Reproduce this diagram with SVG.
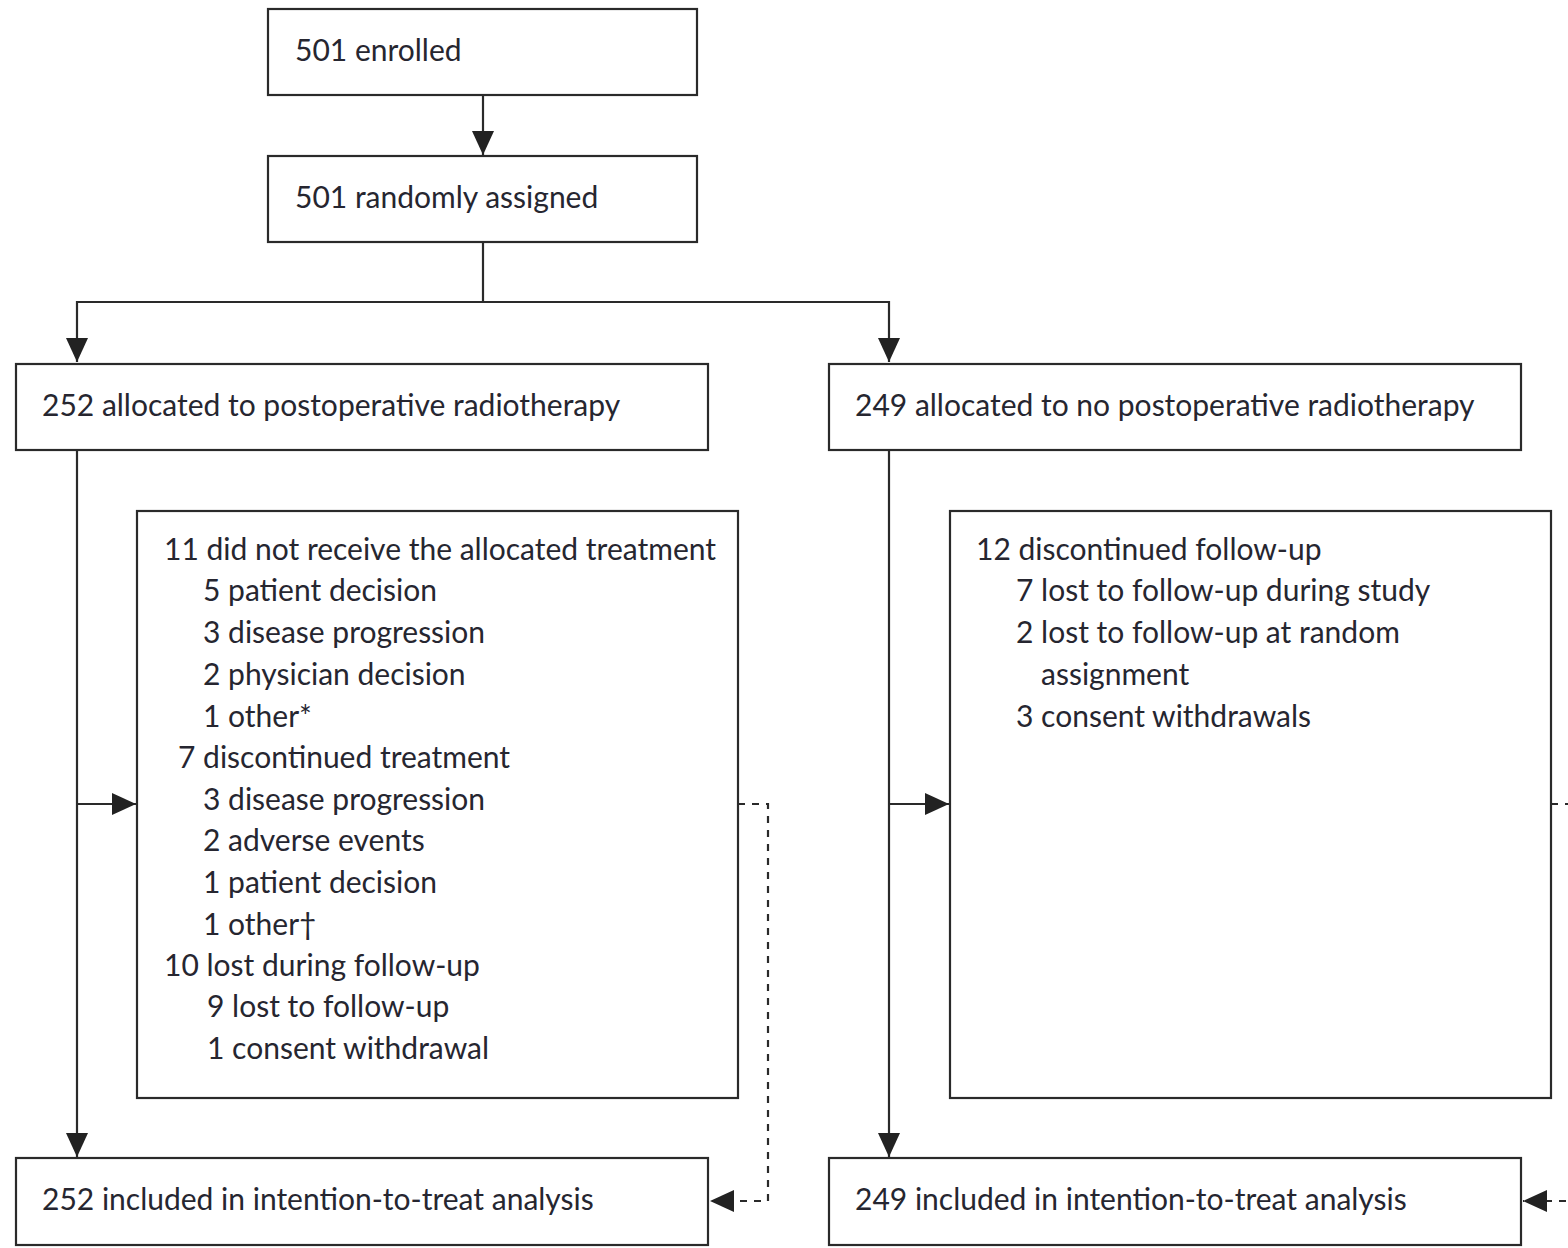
<svg xmlns="http://www.w3.org/2000/svg" width="1568" height="1248" viewBox="0 0 1568 1248">
<style>
.box{fill:#fff;stroke:#2a2a2a;stroke-width:2.2}
.t{font-family:Lato,"Noto Sans",sans-serif;font-size:30px;fill:#262630}
.ln{fill:none;stroke:#2a2a2a;stroke-width:2.2}
.dash{fill:none;stroke:#2a2a2a;stroke-width:2.2;stroke-dasharray:7,7}
</style>
<defs>
<marker id="ah" viewBox="0 0 24 22" refX="24" refY="11" markerWidth="24" markerHeight="22" markerUnits="userSpaceOnUse" orient="auto">
<path d="M0,0 L24,11 L0,22 Z" fill="#222"/>
</marker>
</defs>
<rect width="1568" height="1248" fill="#fff"/>
<g id="connectors">
<line class="ln" x1="483" y1="95" x2="483" y2="155" marker-end="url(#ah)"/>
<polyline class="ln" points="483,242 483,302 77,302 77,362" marker-end="url(#ah)"/>
<polyline class="ln" points="483,302 889,302 889,362" marker-end="url(#ah)"/>
<line class="ln" x1="77" y1="450" x2="77" y2="1157" marker-end="url(#ah)"/>
<line class="ln" x1="77" y1="804" x2="136" y2="804" marker-end="url(#ah)"/>
<line class="ln" x1="889" y1="450" x2="889" y2="1157" marker-end="url(#ah)"/>
<line class="ln" x1="889" y1="804" x2="949" y2="804" marker-end="url(#ah)"/>
<polyline class="dash" points="738,804 768,804 768,1201 710,1201" marker-end="url(#ah)"/>
<line class="dash" x1="1551" y1="804" x2="1580" y2="804"/>
<line class="dash" x1="1580" y1="1201" x2="1523" y2="1201" marker-end="url(#ah)"/>
</g>
<g id="enrolled">
<rect class="box" x="268" y="9" width="429" height="86"/>
<text class="t" x="295" y="61">501 enrolled</text>
</g>
<g id="randomised">
<rect class="box" x="268" y="156" width="429" height="86"/>
<text class="t" x="295" y="208">501 randomly assigned</text>
</g>
<g id="alloc-rt">
<rect class="box" x="16" y="364" width="692" height="86"/>
<text class="t" x="42" y="416">252 allocated to postoperative radiotherapy</text>
</g>
<g id="alloc-nort">
<rect class="box" x="829" y="364" width="692" height="86"/>
<text class="t" x="855" y="416">249 allocated to no postoperative radiotherapy</text>
</g>
<g id="excl-rt">
<rect class="box" x="137" y="511" width="601" height="587"/>
<text class="t" x="164" y="560">11 did not receive the allocated treatment</text>
<text class="t" x="203" y="601">5 patient decision</text>
<text class="t" x="203" y="643">3 disease progression</text>
<text class="t" x="203" y="685">2 physician decision</text>
<text class="t" x="203" y="727">1 other*</text>
<text class="t" x="178" y="768">7 discontinued treatment</text>
<text class="t" x="203" y="810">3 disease progression</text>
<text class="t" x="203" y="851">2 adverse events</text>
<text class="t" x="203" y="893">1 patient decision</text>
<text class="t" x="203" y="935">1 other†</text>
<text class="t" x="164" y="976">10 lost during follow-up</text>
<text class="t" x="207" y="1017">9 lost to follow-up</text>
<text class="t" x="207" y="1059">1 consent withdrawal</text>
</g>
<g id="excl-nort">
<rect class="box" x="950" y="511" width="601" height="587"/>
<text class="t" x="976" y="560">12 discontinued follow-up</text>
<text class="t" x="1016" y="601">7 lost to follow-up during study</text>
<text class="t" x="1016" y="643">2 lost to follow-up at random</text>
<text class="t" x="1041" y="685">assignment</text>
<text class="t" x="1016" y="727">3 consent withdrawals</text>
</g>
<g id="itt-rt">
<rect class="box" x="16" y="1158" width="692" height="87"/>
<text class="t" x="42" y="1210">252 included in intention-to-treat analysis</text>
</g>
<g id="itt-nort">
<rect class="box" x="829" y="1158" width="692" height="87"/>
<text class="t" x="855" y="1210">249 included in intention-to-treat analysis</text>
</g>
</svg>
